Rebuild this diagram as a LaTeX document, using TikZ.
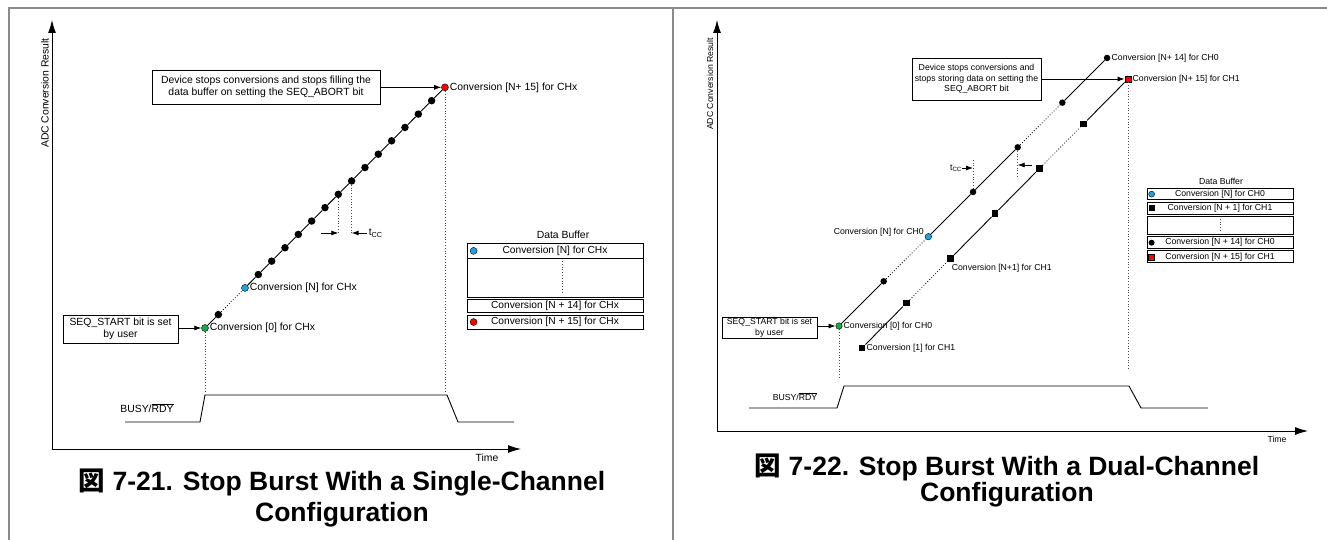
\documentclass[tikz,border=0pt]{standalone}
\usepackage{fontspec}
\setmainfont{Liberation Sans}
\newfontfamily\cjk{Noto Sans CJK JP}
\usetikzlibrary{positioning,arrows.meta}
\definecolor{frameg}{HTML}{8A8A8A}
\definecolor{hint}{HTML}{4A4A4A}
\definecolor{startc}{HTML}{16A84A}
\definecolor{nthc}{HTML}{1FA3E0}
\definecolor{stopc}{HTML}{FF0000}
\tikzset{
  frame/.style   = {draw=frameg, line width=1.5pt},
  axis/.style    = {-{Latex[length=13pt,width=8pt]}, line width=1pt},
  ptr/.style     = {-{Latex[length=7pt,width=5pt]}, line width=0.8pt},
  guide/.style   = {dotted, line width=0.8pt, draw=hint},
  trace/.style   = {line width=0.9pt},
  gap/.style     = {dotted, line width=0.8pt},
  rim/.style     = {draw=black, line width=0.4pt},
  note/.style    = {draw, line width=0.8pt, align=center, inner sep=0pt},
  dotL/.style    = {circle, fill=black, inner sep=0pt, minimum size=7.5pt},
  dotR/.style    = {circle, fill=black, inner sep=0pt, minimum size=6.5pt},
  sqR/.style     = {rectangle, fill=black, inner sep=0pt, minimum size=6.5pt},
  lbL/.style     = {font=\fontsize{10.4}{12}\selectfont, inner sep=1pt},
  lbR/.style     = {font=\fontsize{8.7}{10.5}\selectfont, inner sep=1pt},
  bufL/.style    = {draw, line width=0.8pt, minimum width=176pt, inner sep=0pt, font=\fontsize{10.2}{12}\selectfont},
  bufR/.style    = {draw, line width=0.8pt, minimum width=146pt, inner sep=0pt, font=\fontsize{8.7}{10}\selectfont},
  caption/.style = {font=\fontsize{26.5}{32}\selectfont\bfseries, align=center, inner sep=0pt},
}

\begin{document}
\begin{tikzpicture}[x=1pt,y=-1pt]
\path[use as bounding box] (0,0) rectangle (1327,540);

% ---- page frame ---------------------------------------------------------
\draw[frame] (9,540) -- (9,8) -- (1327,8);
\draw[frame] (673,8) -- (673,540);

% ---- single channel -----------------------------------------------------
\draw[axis] (52,449) -- (52,20);
\draw[axis] (52,449) -- (521,449);
\node[lbL, rotate=90] (yaxL) at (45,93) {ADC Conversion Result};
\node[lbL] (timeL) at (487,458) {Time};

\foreach \n in {1,4,5,6,...,17}
  \node[dotL] (c\n) at ({205+13.33*\n},{328-13.37*\n}) {};
\node[dotL, rim, fill=startc, minimum size=7pt] (c0)  at (205,328) {};
\node[dotL, rim, fill=nthc,   minimum size=7pt] (c3)  at ({205+13.33*3},{328-13.37*3}) {};
\node[dotL, rim, fill=stopc,  minimum size=7pt] (c18) at ({205+13.33*18},{328-13.37*18}) {};

\draw[trace] (c0) -- (c1);
\draw[gap]   (c1) -- (c3);
\foreach \n in {3,...,17}{
  \pgfmathtruncatemacro\m{\n+1}
  \draw[trace] (c\n) -- (c\m);
}

\node[lbL, anchor=west] (l0)  at (c0.east)  {Conversion [0] for CHx};
\node[lbL, anchor=west] (lN)  at (c3.east)  {Conversion [N] for CHx};
\node[lbL, anchor=west] (l15) at (c18.east) {Conversion [N+ 15] for CHx};

% t_CC between two samples
\coordinate (t10) at (c10 |- 0,233);
\coordinate (t11) at (c11 |- 0,233);
\draw[guide] (c10) -- (t10);
\draw[guide] (c11) -- (t11);
\draw[ptr] ([xshift=-17pt]t10) -- (t10);
\draw[ptr] ([xshift=15pt]t11) -- (t11);
\node[lbL, anchor=west] (tccL) at ([xshift=16pt]t11) {t\textsubscript{CC}};

\node[note, lbL, minimum width=228pt, minimum height=34pt, inner sep=0pt] (abortL) at (266,87)
  {Device stops conversions and stops filling the\\data buffer on setting the SEQ\_ABORT bit};
\draw[ptr] (abortL.east |- c18) -- (c18);

\node[note, lbL, minimum width=115pt, minimum height=28pt, inner sep=0pt] (seqL) at (120.5,329)
  {SEQ\_START bit is set\\by user};
\draw[ptr] (seqL.east |- c0) -- (c0);

\draw[guide] (c0)  -- (c0 |- 0,393);
\draw[guide] (c18) -- (c18 |- 0,392);

\draw[trace] (125,422) -- (200,422) -- (205,395) -- (447,395) -- (458,422) -- (514,422);
\node[lbL] (busyL) at (147,408) {BUSY/$\overline{\mbox{RDY}}$};

% data buffer
\node[lbL] (bufTL) at (563,235) {Data Buffer};
\node[bufL, minimum height=15pt, anchor=north] (bL1) at (555,243) {Conversion [N] for CHx};
\node[bufL, minimum height=39pt, below=-0.8pt of bL1] (bL2) {};
\node[bufL, minimum height=13pt, below=1.5pt of bL2] (bL3) {Conversion [N + 14] for CHx};
\node[bufL, minimum height=14pt, below=1.5pt of bL3] (bL4) {Conversion [N + 15] for CHx};
\node[dotL, rim, fill=nthc,  minimum size=7pt] (mL1) at ([xshift=7pt]bL1.west) {};
\node[dotL, rim, fill=stopc, minimum size=7pt] (mL4) at ([xshift=7pt]bL4.west) {};
\draw[guide] ([xshift=7pt,yshift=-3pt]bL2.north) -- ([xshift=7pt,yshift=4pt]bL2.south);

\node[caption] (capL1) at (342,483) {{\cjk 図} 7-21. Stop Burst With a Single-Channel};
\node[caption] (capL2) at (342,515) {Configuration};

% ---- dual channel -------------------------------------------------------
\draw[axis] (717,431) -- (717,20);
\draw[axis] (717,431) -- (1308,431);
\node[lbR, rotate=90] (yaxR) at (710,84) {ADC Conversion Result};
\node[lbR] (timeR) at (1277,439) {Time};

\foreach \m in {1,3,4,5,6}
  \node[dotR] (d\m) at ({839+44.67*\m},{326-44.67*\m}) {};
\node[dotR, rim, fill=startc] (d0) at (839,326) {};
\node[dotR, rim, fill=nthc]   (d2) at ({839+44.67*2},{326-44.67*2}) {};

\foreach \m in {0,...,5}
  \node[sqR] (s\m) at ({862+44.33*\m},{348-44.83*\m}) {};
\node[sqR, rim, fill=stopc] (s6) at ({862+44.33*6},{348-44.83*6}) {};

\foreach \i/\j/\s in {0/1/trace,1/2/gap,2/3/trace,3/4/trace,4/5/gap,5/6/trace}{
  \draw[\s] (d\i) -- (d\j);
  \draw[\s] (s\i) -- (s\j);
}

\node[lbR, anchor=west] (r0)  at (d0.east) {Conversion [0] for CH0};
\node[lbR, anchor=west] (r1)  at (s0.east) {Conversion [1] for CH1};
\node[lbR, anchor=east] (rN)  at ([yshift=4pt]d2.west) {Conversion [N] for CH0};
\node[lbR, anchor=north west] (rN1) at ([yshift=-1pt]s2.south) {Conversion [N+1] for CH1};
\node[lbR, anchor=west] (r14) at (d6.east) {Conversion [N+ 14] for CH0};
\node[lbR, anchor=west] (r15) at (s6.east) {Conversion [N+ 15] for CH1};

% t_CC between the two channels
\coordinate (w3) at (d3 |- 0,160);
\coordinate (w4) at (d4 |- 0,177);
\coordinate (k3) at (d3 |- 0,168);
\coordinate (k4) at (d4 |- 0,165);
\draw[guide] (d3) -- (w3);
\draw[guide] (d4) -- (w4);
\draw[ptr] ([xshift=-11pt]k3) -- (k3);
\draw[ptr] ([xshift=14pt]k4) -- (k4);
\node[lbR, anchor=east] (tccR) at ([xshift=-10pt]k3) {t\textsubscript{CC}};

\node[note, lbR, minimum width=129pt, minimum height=42pt] (abortR) at (976.5,79)
  {Device stops conversions and\\stops storing data on setting the\\SEQ\_ABORT bit};
\draw[ptr] (abortR.east |- s6) -- (s6);

\node[note, lbR, minimum width=95pt, minimum height=21pt] (seqR) at (769.5,327.5)
  {SEQ\_START bit is set\\by user};
\draw[ptr] (seqR.east |- d0) -- (d0);

\draw[guide] (d0) -- (d0 |- 0,379);
\draw[guide] (s6) -- (s6 |- 0,370);

\draw[trace] (749,408) -- (837,408) -- (844,386) -- (1129,386) -- (1141,408) -- (1208,408);
\node[lbR] (busyR) at (795,397) {BUSY/$\overline{\mbox{RDY}}$};

% data buffer
\node[lbR] (bufTR) at (1221,181) {Data Buffer};
\node[bufR, minimum height=11.5pt, anchor=north] (bR1) at (1220,188) {Conversion [N] for CH0};
\node[bufR, minimum height=12pt,   below=1.3pt of bR1] (bR2) {Conversion [N + 1] for CH1};
\node[bufR, minimum height=18.5pt, below=1.3pt of bR2] (bR3) {};
\node[bufR, minimum height=12pt,   below=1.3pt of bR3] (bR4) {Conversion [N + 14] for CH0};
\node[bufR, minimum height=12pt,   below=1.3pt of bR4] (bR5) {Conversion [N + 15] for CH1};
\node[dotR, rim, fill=nthc, minimum size=6pt] (mR1) at ([xshift=5pt]bR1.west) {};
\node[sqR, minimum size=6pt]                  (mR2) at ([xshift=5pt]bR2.west) {};
\node[dotR, minimum size=6pt]                 (mR4) at ([xshift=5pt]bR4.west) {};
\node[sqR, rim, fill=stopc, minimum size=6pt] (mR5) at ([xshift=5pt]bR5.west) {};
\draw[guide] ([yshift=-3pt]bR3.north) -- ([yshift=3pt]bR3.south);

\node[caption] (capR1) at (1007,467) {{\cjk 図} 7-22. Stop Burst With a Dual-Channel};
\node[caption] (capR2) at (1007,495) {Configuration};

\end{tikzpicture}
\end{document}
